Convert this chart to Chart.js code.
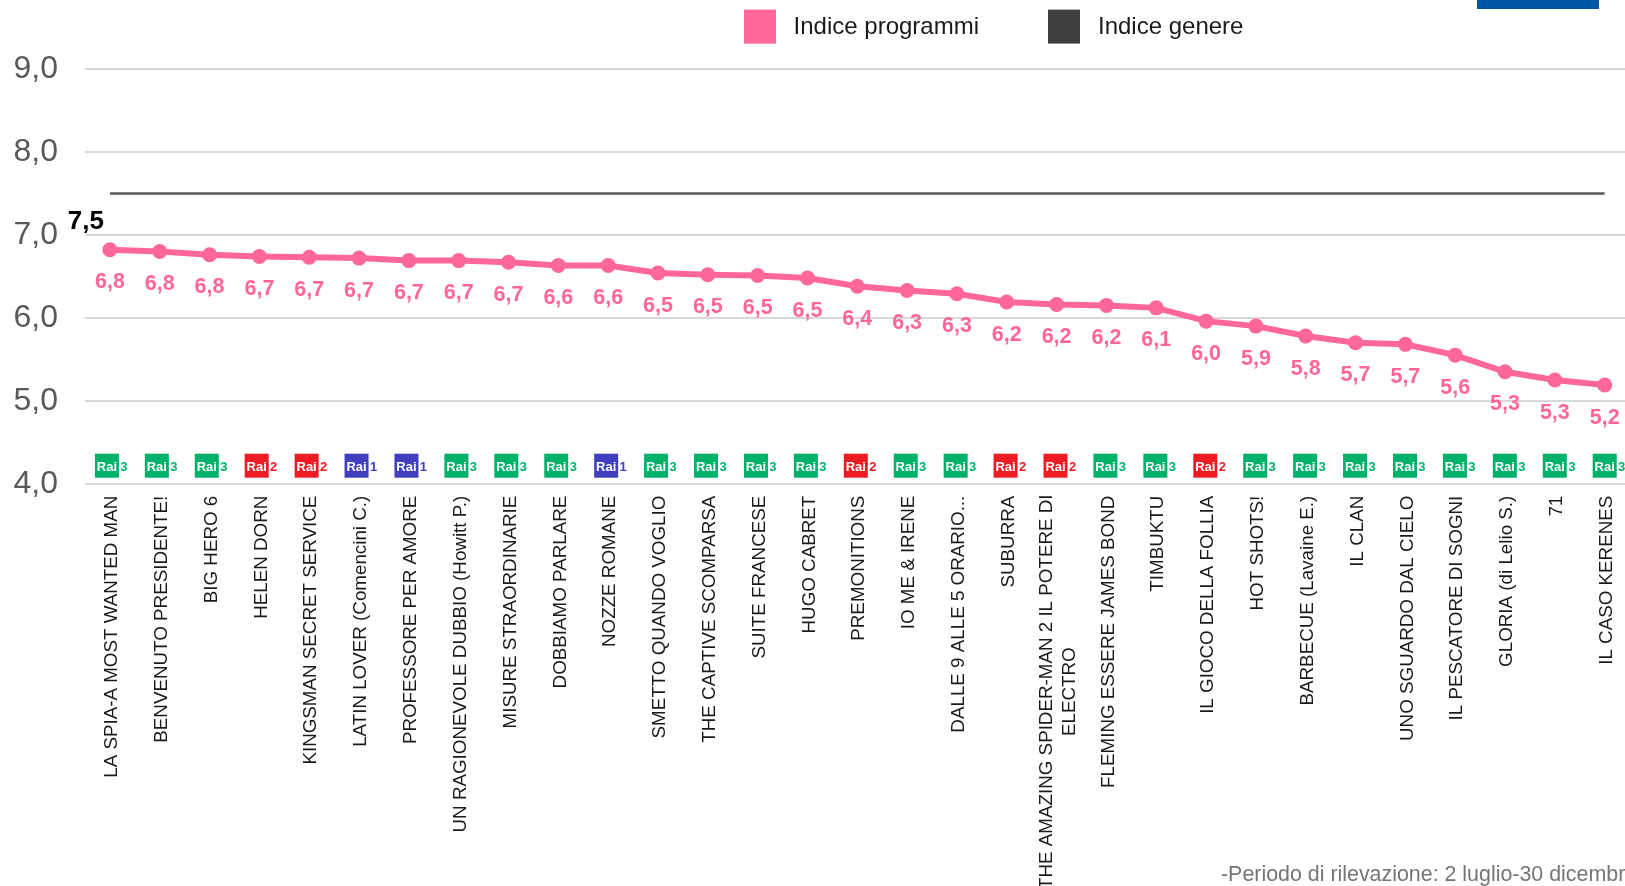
<!DOCTYPE html>
<html>
<head>
<meta charset="utf-8">
<style>html,body{margin:0;padding:0;background:#fff;overflow:hidden;width:1625px;height:886px}canvas{display:block}</style>
<script src="https://cdn.jsdelivr.net/npm/chart.js@4/dist/chart.umd.min.js"></script>
</head>
<body>
<canvas id="c" width="1700" height="886"></canvas>
<script>
const categories = ["LA SPIA-A MOST WANTED MAN","BENVENUTO PRESIDENTE!","BIG HERO 6","HELEN DORN","KINGSMAN SECRET SERVICE","LATIN LOVER (Comencini C.)","PROFESSORE PER AMORE","UN RAGIONEVOLE DUBBIO (Howitt P.)","MISURE STRAORDINARIE","DOBBIAMO PARLARE","NOZZE ROMANE","SMETTO QUANDO VOGLIO","THE CAPTIVE SCOMPARSA","SUITE FRANCESE","HUGO CABRET","PREMONITIONS","IO ME & IRENE","DALLE 9 ALLE 5 ORARIO...","SUBURRA",["THE AMAZING SPIDER-MAN 2 IL POTERE DI","ELECTRO"],"FLEMING ESSERE JAMES BOND","TIMBUKTU","IL GIOCO DELLA FOLLIA","HOT SHOTS!","BARBECUE (Lavaine E.)","IL CLAN","UNO SGUARDO DAL CIELO","IL PESCATORE DI SOGNI","GLORIA (di Lelio S.)","71","IL CASO KERENES"];
const indiceProgrammi = [6.82,6.80,6.76,6.74,6.73,6.72,6.69,6.69,6.67,6.63,6.63,6.54,6.52,6.51,6.48,6.38,6.33,6.29,6.19,6.16,6.15,6.12,5.96,5.90,5.78,5.70,5.68,5.55,5.35,5.25,5.19];
const valueLabels = ["6,8","6,8","6,8","6,7","6,7","6,7","6,7","6,7","6,7","6,6","6,6","6,5","6,5","6,5","6,5","6,4","6,3","6,3","6,2","6,2","6,2","6,1","6,0","5,9","5,8","5,7","5,7","5,6","5,3","5,3","5,2"];
const indiceGenere = categories.map(() => 7.5);
const genereLabel = "7,5";
const channels = [3,3,3,2,2,1,1,3,3,3,1,3,3,3,3,2,3,3,2,2,3,3,2,3,3,3,3,3,3,3,3];
const channelColors = {1:"#3f3fbf",2:"#ed1c24",3:"#00b16a"};
const footnote = "-Periodo di rilevazione: 2 luglio-30 dicembre";
const FONT = '"Liberation Sans", Arial, sans-serif';
const PINK = "#ff6699", GREY = "#595959";
const TICK_FONT = 18.8, TICK_COLOR = "#1a1a1a";

const extras = {
  id: "extras",
  afterDatasetsDraw(chart) {
    const {ctx, scales:{x, y}} = chart;
    ctx.save();
    // value labels under the pink line
    ctx.textAlign = "center"; ctx.textBaseline = "alphabetic";
    ctx.fillStyle = PINK; ctx.font = "bold 21.5px " + FONT;
    indiceProgrammi.forEach((v, i) => ctx.fillText(valueLabels[i], x.getPixelForValue(i), y.getPixelForValue(v) + 38.5));
    // genre index label
    ctx.fillStyle = "#000"; ctx.font = "bold 26px " + FONT;
    ctx.fillText(genereLabel, x.getPixelForValue(0) - 24, y.getPixelForValue(indiceGenere[0]) + 36);
    // channel badges
    channels.forEach((ch, i) => {
      const left = x.getPixelForValue(i) - 15 + i * 0.1;
      const top = y.getPixelForValue(4) - 30;
      ctx.fillStyle = channelColors[ch];
      ctx.fillRect(left, top, 24, 24);
      ctx.font = "bold 13px " + FONT; ctx.textAlign = "center";
      ctx.fillStyle = "#fff";
      ctx.fillText("Rai", left + 12, top + 17);
      ctx.fillStyle = channelColors[ch];
      ctx.font = "bold 13px " + FONT;
      ctx.fillText(String(ch), left + 29, top + 17);
    });
    // two-line category label, centred line over line
    categories.forEach((l, i) => {
      if (!Array.isArray(l)) return;
      ctx.save();
      ctx.font = TICK_FONT + "px " + FONT;
      ctx.fillStyle = TICK_COLOR;
      ctx.textAlign = "center";
      const cx = x.getPixelForValue(i);
      const cy = 494.5 + ctx.measureText(l[0]).width / 2;
      l.forEach((line, k) => {
        ctx.save();
        ctx.translate(cx + 7 + (k - 0.5) * 22.5, cy);
        ctx.rotate(-Math.PI / 2);
        ctx.fillText(line, 0, 0);
        ctx.restore();
      });
      ctx.restore();
    });
    // legend
    ctx.textAlign = "left"; ctx.font = "24px " + FONT;
    [[744, 793.6, "#ff6699"], [1048, 1098, "#404040"]].forEach(([bx, tx, col], k) => {
      const ds = chart.data.datasets[k];
      ctx.fillStyle = col; ctx.fillRect(bx, 9.6, 32, 34);
      ctx.fillStyle = "#1a1a1a"; ctx.fillText(ds.label, tx, 33.5);
    });
    // footnote and top-right block
    ctx.fillStyle = "#757575"; ctx.font = "21.4px " + FONT;
    ctx.fillText(footnote, 1221, 881);
    ctx.fillStyle = "#0056a3"; ctx.fillRect(1477, 0, 122, 9);
    ctx.restore();
  }
};

new Chart(document.getElementById("c"), {
  type: "line",
  data: {
    labels: categories,
    datasets: [
      {label:"Indice programmi", data:indiceProgrammi, borderColor:PINK, backgroundColor:PINK, borderWidth:6, pointRadius:7.5, pointBackgroundColor:PINK, pointBorderWidth:0, tension:0, order:1},
      {label:"Indice genere", data:indiceGenere, borderColor:GREY, backgroundColor:GREY, borderWidth:2.5, pointRadius:0, tension:0, order:2}
    ]
  },
  options: {
    responsive:false, animation:false,
    layout:{padding:{top:69, right:70.4, left:0, bottom:0}},
    plugins:{legend:{display:false}, tooltip:{enabled:false}},
    scales:{
      x:{
        offset:true,
        grid:{display:false}, border:{display:false},
        afterFit(s){ s.height = 402.3; },
        ticks:{
          autoSkip:false, maxRotation:90, minRotation:90, padding:4, labelOffset:2,
          color:TICK_COLOR, font:{family:FONT, size:TICK_FONT},
          callback(v, i){ const l = categories[i]; return Array.isArray(l) ? "" : l; }
        }
      },
      y:{
        min:4, max:9,
        afterFit(s){ s.width = 85; },
        border:{display:false},
        grid:{color:"#d9d9d9", lineWidth:2, drawTicks:false},
        ticks:{stepSize:1, padding:27, color:"#595959", font:{family:FONT, size:32},
          callback:v => v.toFixed(1).replace(".", ",")}
      }
    }
  },
  plugins:[extras]
});
</script>
</body>
</html>
